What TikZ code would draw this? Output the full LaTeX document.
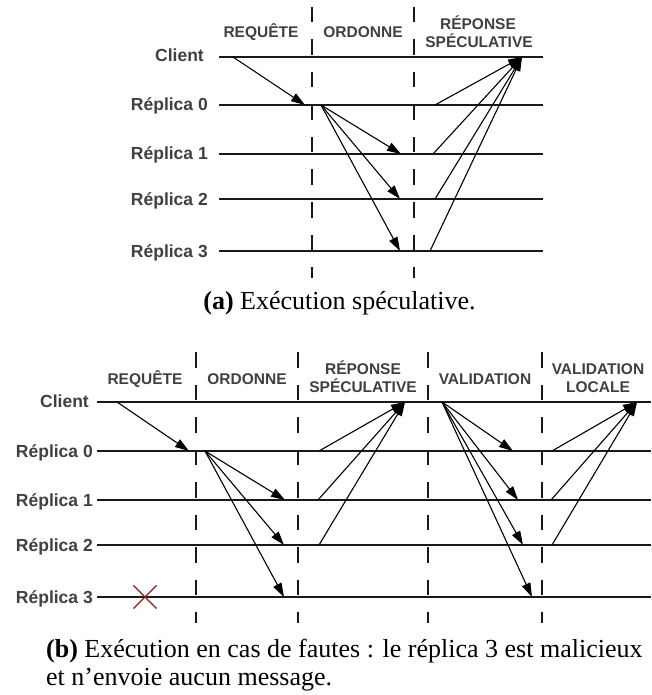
\documentclass[tikz,border=0pt]{standalone}
\usepackage{fontspec}
\setmainfont{Liberation Serif}
\newfontfamily\lsans{Liberation Sans}
\usetikzlibrary{arrows.meta,shapes.misc}
\definecolor{lbl}{HTML}{404040}
\definecolor{crossred}{HTML}{8B1A1A}
\begin{document}
\begin{tikzpicture}[x=1pt,y=-1pt,
  life/.style={line width=1.6pt, black!90},
  sep/.style={line width=1.4pt, black!90, dash pattern=on 15.5pt off 17pt},
  msg/.style={line width=1.1pt, -{Triangle[length=14pt,width=9pt]}},
  hdr/.style={inner sep=0, anchor=base, text=lbl, font=\lsans\bfseries\fontsize{15.5}{18}\selectfont},
  side/.style={inner sep=0, anchor=base east, text=lbl, font=\lsans\bfseries\fontsize{17.5}{20}\selectfont},
  capt/.style={inner sep=0, font=\fontsize{26}{30}\selectfont}]
\useasboundingbox (0,0) rectangle (651,695);

% ================= (a) =================
% headers
\node[hdr] (aH1) at (261,38) {REQUÊTE};
\node[hdr] (aH2) at (363,38) {ORDONNE};
\node[hdr] (aH3a) at (478,29.5) {RÉPONSE};
\node[hdr] (aH3b) at (479,48) {SPÉCULATIVE};
% side labels
\node[side] (aLC) at (204,62) {Client};
\node[side] (aL0) at (208,111) {Réplica 0};
\node[side] (aL1) at (208,160) {Réplica 1};
\node[side] (aL2) at (208,205) {Réplica 2};
\node[side] (aL3) at (208,257) {Réplica 3};
% lanes
\coordinate (aCs) at (219,57);  \coordinate (aCe) at (543,57);
\coordinate (a0s) at (219,105); \coordinate (a0e) at (543,105);
\coordinate (a1s) at (219,154); \coordinate (a1e) at (543,154);
\coordinate (a2s) at (219,199); \coordinate (a2e) at (543,199);
\coordinate (a3s) at (219,251); \coordinate (a3e) at (543,251);
\foreach \n in {C,0,1,2,3} \draw[life] (a\n s) -- (a\n e);
% separators
\coordinate (aS1t) at (312,7); \coordinate (aS1b) at (312,278);
\coordinate (aS2t) at (414,7); \coordinate (aS2b) at (414,278);
\draw[sep] (aS1t) -- (aS1b);
\draw[sep] (aS2t) -- (aS2b);
% request
\coordinate (aReqS) at (233,57); \coordinate (aReqT) at (305,105);
\draw[msg] (aReqS) -- (aReqT);
% order
\coordinate (aOrdS) at (321,105);
\coordinate (aOrd1) at (401,154);
\coordinate (aOrd2) at (400,199);
\coordinate (aOrd3) at (400,251);
\draw[msg] (aOrdS) -- (aOrd1);
\draw[msg] (aOrdS) -- (aOrd2);
\draw[msg] (aOrdS) -- (aOrd3);
% speculative reply
\coordinate (aRepT) at (522,57);
\coordinate (aRep0) at (435,105);
\coordinate (aRep1) at (433,154);
\coordinate (aRep2) at (435,199);
\coordinate (aRep3) at (430,251);
\draw[msg] (aRep0) -- (aRepT);
\draw[msg] (aRep1) -- (aRepT);
\draw[msg] (aRep2) -- (aRepT);
\draw[msg] (aRep3) -- (aRepT);
% caption
\node[capt, anchor=base] (aCap) at (339.5,309) {\textbf{(a)} Exécution spéculative.};

% ================= (b) =================
\node[hdr] (bH1) at (145,384.5) {REQUÊTE};
\node[hdr] (bH2) at (247,384.5) {ORDONNE};
\node[hdr] (bH3a) at (363,374.5) {RÉPONSE};
\node[hdr] (bH3b) at (363,392.5) {SPÉCULATIVE};
\node[hdr] (bH4) at (485,384.5) {VALIDATION};
\node[hdr] (bH5a) at (598,374.5) {VALIDATION};
\node[hdr] (bH5b) at (598,392.5) {LOCALE};
% side labels
\node[side] (bLC) at (89,407) {Client};
\node[side] (bL0) at (93,457) {Réplica 0};
\node[side] (bL1) at (93,506) {Réplica 1};
\node[side] (bL2) at (93,551) {Réplica 2};
\node[side] (bL3) at (93,603) {Réplica 3};
% lanes
\coordinate (bCs) at (97,402); \coordinate (bCe) at (651,402);
\coordinate (b0s) at (97,451); \coordinate (b0e) at (651,451);
\coordinate (b1s) at (97,500); \coordinate (b1e) at (651,500);
\coordinate (b2s) at (97,545); \coordinate (b2e) at (651,545);
\coordinate (b3s) at (97,597); \coordinate (b3e) at (651,597);
\foreach \n in {C,0,1,2,3} \draw[life] (b\n s) -- (b\n e);
% separators
\foreach \i/\x in {1/196,2/298,3/428,4/542}{
  \coordinate (bS\i t) at (\x,352); \coordinate (bS\i b) at (\x,623);
  \draw[sep] (bS\i t) -- (bS\i b);
}
% faulty replica
\node[cross out, draw=crossred, line width=1.1pt, minimum size=22pt, inner sep=0] (bX) at (145,597) {};
% request
\coordinate (bReqS) at (117,402); \coordinate (bReqT) at (189,451);
\draw[msg] (bReqS) -- (bReqT);
% order
\coordinate (bOrdS) at (205,451);
\coordinate (bOrd1) at (285,500);
\coordinate (bOrd2) at (284,545);
\coordinate (bOrd3) at (284,597);
\draw[msg] (bOrdS) -- (bOrd1);
\draw[msg] (bOrdS) -- (bOrd2);
\draw[msg] (bOrdS) -- (bOrd3);
% speculative reply
\coordinate (bRepT) at (405,402);
\coordinate (bRep0) at (319,451);
\coordinate (bRep1) at (318,500);
\coordinate (bRep2) at (319,545);
\draw[msg] (bRep0) -- (bRepT);
\draw[msg] (bRep1) -- (bRepT);
\draw[msg] (bRep2) -- (bRepT);
% validation
\coordinate (bValS) at (442,402);
\coordinate (bVal0) at (513,451);
\coordinate (bVal1) at (518,500);
\coordinate (bVal2) at (523,545);
\coordinate (bVal3) at (532,597);
\draw[msg] (bValS) -- (bVal0);
\draw[msg] (bValS) -- (bVal1);
\draw[msg] (bValS) -- (bVal2);
\draw[msg] (bValS) -- (bVal3);
% local validation
\coordinate (bLocT) at (637,402);
\coordinate (bLoc0) at (552,451);
\coordinate (bLoc1) at (551,500);
\coordinate (bLoc2) at (552,545);
\draw[msg] (bLoc0) -- (bLocT);
\draw[msg] (bLoc1) -- (bLocT);
\draw[msg] (bLoc2) -- (bLocT);
% caption
\node[capt, anchor=base west] (bCap1) at (46,657) {\textbf{(b)} Exécution en cas de fautes : le réplica 3 est malicieux};
\node[capt, anchor=base west] (bCap2) at (46,685) {et n’envoie aucun message.};
\end{tikzpicture}
\end{document}
